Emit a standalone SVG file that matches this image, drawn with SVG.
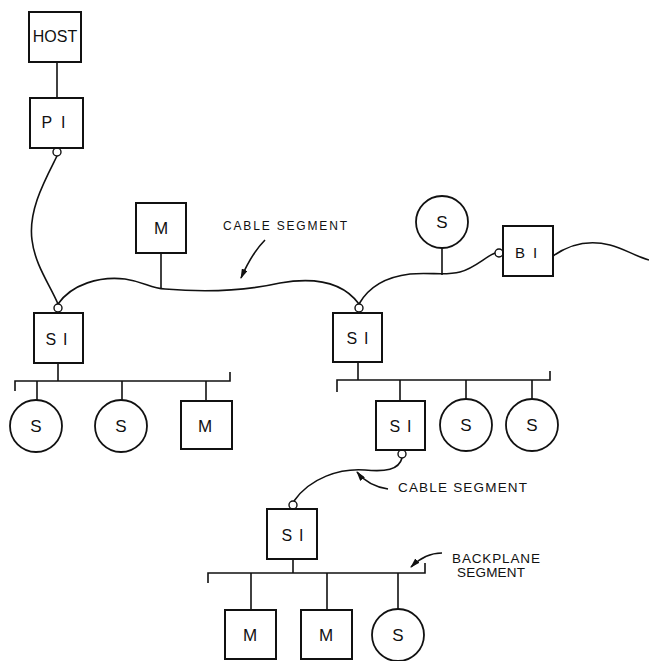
<svg xmlns="http://www.w3.org/2000/svg" width="649" height="661" viewBox="0 0 649 661">
<style>
.box{fill:#fff;stroke:#111;stroke-width:2}
.circ{fill:#fff;stroke:#111;stroke-width:1.8}
.ln{fill:none;stroke:#111;stroke-width:1.6}
.port{fill:#fff;stroke:#111;stroke-width:1.4}
.t{font-family:"Liberation Sans",Arial,sans-serif;fill:#111;text-anchor:middle}
.n{font-size:17px}
.lbl{font-family:"Liberation Sans",Arial,sans-serif;fill:#111;font-size:12px}
.lbl2{font-family:"Liberation Sans",Arial,sans-serif;fill:#111;font-size:13.5px}
</style>
<defs>
<marker id="ah" viewBox="0 0 10 6" refX="9" refY="3" markerWidth="10" markerHeight="6" markerUnits="userSpaceOnUse" orient="auto">
<path d="M0,0 L10,3 L0,6 Z" fill="#111"/>
</marker>
</defs>
<g id="connectors">
<line class="ln" x1="57" y1="62" x2="57" y2="98"/>
<path class="ln" d="M57,156 C45,180 28,210 32,240 C35,265 50,285 58,304"/>
<path class="ln" d="M58,304 C72,284 100,276 125,279 C145,282 150,288 165,289 C200,292 240,292 280,283 C320,276 345,285 359,304"/>
<path class="ln" d="M359,304 C368,288 385,277 410,274 C430,272 445,276 460,272 C475,268 485,257 495,253"/>
<path class="ln" d="M553,256 C570,244 590,240 610,245 C625,249 635,256 649,260"/>
<line class="ln" x1="161" y1="253" x2="161" y2="288"/>
<line class="ln" x1="442" y1="248" x2="442" y2="275"/>
<path class="ln" d="M402,458 C399,470 385,472 365,470 C340,468 310,478 294,501"/>
<line class="ln" x1="58" y1="363" x2="58" y2="381"/>
<path class="ln" d="M15,391 V381 H230 V372"/>
<line class="ln" x1="37" y1="381" x2="37" y2="400"/>
<line class="ln" x1="122" y1="381" x2="122" y2="400"/>
<line class="ln" x1="206" y1="381" x2="206" y2="401"/>
<line class="ln" x1="358" y1="362" x2="358" y2="380"/>
<path class="ln" d="M337,392 V380 H550 V371"/>
<line class="ln" x1="400" y1="380" x2="400" y2="401"/>
<line class="ln" x1="466" y1="380" x2="466" y2="399"/>
<line class="ln" x1="532" y1="380" x2="532" y2="399"/>
<line class="ln" x1="293" y1="559" x2="293" y2="573"/>
<path class="ln" d="M208,583 V573 H425 V563"/>
<line class="ln" x1="251" y1="573" x2="251" y2="610"/>
<line class="ln" x1="327" y1="573" x2="327" y2="610"/>
<line class="ln" x1="398" y1="573" x2="398" y2="609"/>
<path class="ln" d="M265,240 C255,250 248,262 241,278" marker-end="url(#ah)"/>
<path class="ln" d="M388,489 C375,487 365,482 357,472" marker-end="url(#ah)"/>
<path class="ln" d="M442,553 C430,553 420,558 411,567" marker-end="url(#ah)"/>
<circle class="port" cx="57" cy="152" r="4"/>
<circle class="port" cx="58" cy="308" r="4"/>
<circle class="port" cx="359" cy="308" r="4"/>
<circle class="port" cx="499" cy="253" r="4"/>
<circle class="port" cx="402" cy="454" r="4"/>
<circle class="port" cx="293" cy="505" r="4"/>
</g>
<g id="host"><rect class="box" x="29" y="12" width="52" height="50"/><text class="t" x="55" y="42" font-size="16">HOST</text></g>
<g id="pi"><rect class="box" x="30" y="98" width="53" height="50"/><text class="t" x="58" y="128" font-size="16" letter-spacing="9">PI</text></g>
<g id="m-top"><rect class="box" x="136" y="203" width="50" height="50"/><text class="t n" x="161" y="234">M</text></g>
<g id="s-top"><circle class="circ" cx="442" cy="222" r="26"/><text class="t n" x="442" y="228">S</text></g>
<g id="bi"><rect class="box" x="503" y="226" width="50" height="50"/><text class="t" x="530" y="258" font-size="15" letter-spacing="8">BI</text></g>
<g id="si-left"><rect class="box" x="34" y="313" width="49" height="50"/><text class="t" x="60" y="345" font-size="16" letter-spacing="7">SI</text></g>
<g id="si-right"><rect class="box" x="333" y="313" width="49" height="49"/><text class="t" x="361" y="344" font-size="16" letter-spacing="7">SI</text></g>
<g id="s-l1"><circle class="circ" cx="36" cy="426" r="26"/><text class="t n" x="36" y="432">S</text></g>
<g id="s-l2"><circle class="circ" cx="121" cy="426" r="26"/><text class="t n" x="121" y="432">S</text></g>
<g id="m-l3"><rect class="box" x="181" y="401" width="51" height="48"/><text class="t n" x="205" y="432">M</text></g>
<g id="si-mid"><rect class="box" x="376" y="401" width="49" height="49"/><text class="t" x="404" y="432" font-size="16" letter-spacing="7">SI</text></g>
<g id="s-r2"><circle class="circ" cx="466" cy="425" r="26"/><text class="t n" x="466" y="431">S</text></g>
<g id="s-r3"><circle class="circ" cx="532" cy="425" r="26"/><text class="t n" x="532" y="431">S</text></g>
<g id="si-low"><rect class="box" x="267" y="509" width="50" height="50"/><text class="t" x="296" y="541" font-size="16" letter-spacing="7">SI</text></g>
<g id="m-b1"><rect class="box" x="225" y="610" width="51" height="49"/><text class="t n" x="250" y="641">M</text></g>
<g id="m-b2"><rect class="box" x="301" y="610" width="51" height="49"/><text class="t n" x="326" y="641">M</text></g>
<g id="s-b3"><circle class="circ" cx="398" cy="635" r="26"/><text class="t n" x="398" y="641">S</text></g>
<g id="labels">
<text class="lbl" x="223" y="230" textLength="124" lengthAdjust="spacing">CABLE SEGMENT</text>
<text class="lbl2" x="398" y="492" textLength="129" lengthAdjust="spacing">CABLE  SEGMENT</text>
<text class="lbl2" x="452" y="563" textLength="88" lengthAdjust="spacing">BACKPLANE</text>
<text class="lbl2" x="457" y="577" textLength="68" lengthAdjust="spacing">SEGMENT</text>
</g>
</svg>
